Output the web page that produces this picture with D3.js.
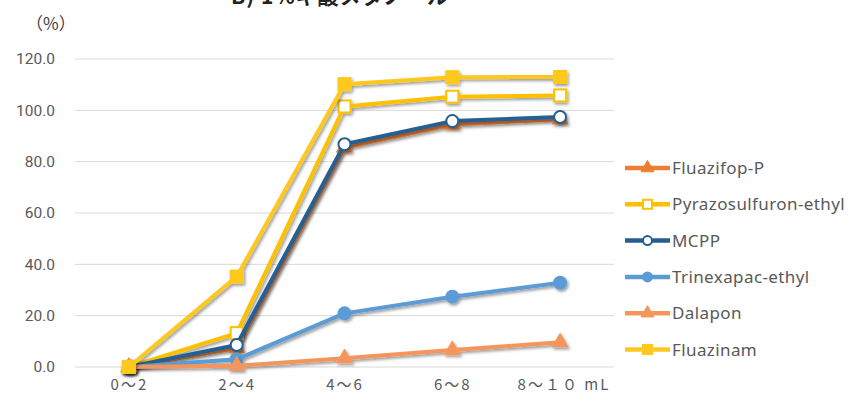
<!DOCTYPE html>
<html>
<head>
<meta charset="utf-8">
<script src="https://cdn.jsdelivr.net/npm/d3@7"></script>
<style>
  html, body { margin: 0; padding: 0; background: #fff; }
  svg { display: block; font-family: "Noto Sans CJK JP", "Noto Sans", sans-serif; }
</style>
</head>
<body>
<svg id="chart" width="850" height="398"></svg>
<script>
// Elution profile per fraction
const categories = ["0～2", "2～4", "4～6", "6～8", "8～１０ mL"];
const yTicks = [0, 20, 40, 60, 80, 100, 120];

const seriesNames = ["Fluazifop-P", "Pyrazosulfuron-ethyl", "MCPP", "Trinexapac-ethyl", "Dalapon", "Fluazinam"];
const fluazifopP   = [0, 7.4, 85.5, 94.5, 96.5];
const pyrazosulf   = [0, 13.2, 101.5, 105.3, 105.8];
const mcpp         = [0, 8.6, 86.8, 95.8, 97.4];
const trinexapac   = [0, 3.0, 20.9, 27.4, 32.8];
const dalapon      = [0, 0.5, 3.4, 6.6, 9.6];
const fluazinam    = [0, 35.2, 110.2, 112.9, 113.0];

const seriesValues = [fluazifopP, pyrazosulf, mcpp, trinexapac, dalapon, fluazinam];
const seriesColors = ["#ED7D31", "#FFC000", "#255E91", "#5B9BD5", "#F4965C", "#FFC81E"];
const seriesMarkers = ["triangle", "squareOpen", "circleOpen", "circle", "triangle", "square"];

const svg = d3.select("#chart");
const margin = { left: 75, right: 236, top: 59, bottom: 31 };
const W = 850, H = 398;

const x = d3.scalePoint().domain(categories).range([margin.left, W - margin.right]).padding(0.5);
const y = d3.scaleLinear().domain([0, 120]).range([H - margin.bottom, margin.top]);

// soft shadow under lines and markers
const defs = svg.append("defs");
const f = defs.append("filter").attr("id", "shadow").attr("x", "-20%").attr("y", "-20%").attr("width", "140%").attr("height", "140%");
f.append("feDropShadow").attr("dx", 1.5).attr("dy", 2).attr("stdDeviation", 1.8)
  .attr("flood-color", "#000").attr("flood-opacity", 0.4);

// title (runs off the top edge)
svg.append("text").attr("x", 340).attr("y", 4).attr("text-anchor", "middle")
  .attr("font-size", 21).attr("font-weight", "bold").attr("fill", "#222")
  .attr("letter-spacing", 1)
  .text("B) 1%ギ酸メタノール");

// unit label
svg.append("text").attr("x", 26).attr("y", 30).attr("font-size", 17).attr("fill", "#404040").text("（%）");

// gridlines
svg.append("g").selectAll("line").data(yTicks).join("line")
  .attr("x1", margin.left).attr("x2", W - margin.right)
  .attr("y1", d => y(d)).attr("y2", d => y(d))
  .attr("stroke", "#d9d9d9").attr("stroke-width", 1);

// y axis labels
const yAxis = d3.axisLeft(y).tickValues(yTicks).tickFormat(d3.format(".1f")).tickSize(0).tickPadding(0);
const gy = svg.append("g").attr("transform", `translate(${margin.left - 20},0)`).call(yAxis);
gy.select(".domain").remove();
gy.selectAll("text").attr("font-size", 15.5).attr("fill", "#595959")
  .attr("font-family", "Roboto, 'Noto Sans', sans-serif");

// x axis labels
const xAxis = d3.axisBottom(x).tickSize(0).tickPadding(0);
const gx = svg.append("g").attr("transform", `translate(0,${H - margin.bottom + 12})`).call(xAxis);
gx.select(".domain").remove();
gx.selectAll("text").attr("font-size", 15).attr("fill", "#595959")
  .attr("letter-spacing", 2)
  .attr("font-family", "'Noto Sans CJK JP', sans-serif");
gx.selectAll(".tick").filter((d, i) => i === categories.length - 1)
  .select("text").attr("text-anchor", "start").attr("dx", -43);

function drawMarker(g, type, color, size) {
  const s = size;
  if (type === "triangle") {
    g.append("path").attr("d", d3.symbol(d3.symbolTriangle, s * s * 0.9)())
      .attr("fill", color).attr("stroke", color).attr("stroke-width", 1);
  } else if (type === "square" || type === "squareOpen") {
    g.append("rect").attr("x", -s / 2).attr("y", -s / 2).attr("width", s).attr("height", s)
      .attr("fill", type === "square" ? color : "#fff").attr("stroke", color).attr("stroke-width", 2);
  } else {
    g.append("circle").attr("r", s / 2)
      .attr("fill", type === "circle" ? color : "#fff")
      .attr("stroke", color).attr("stroke-width", 2);
  }
}

const line = d3.line().x((d, i) => x(categories[i])).y(d => y(d));

seriesNames.forEach((name, si) => {
  const g = svg.append("g").attr("filter", "url(#shadow)");
  const color = seriesColors[si];
  g.append("path").datum(seriesValues[si]).attr("d", line)
    .attr("fill", "none").attr("stroke", color).attr("stroke-width", 4)
    .attr("stroke-linejoin", "round");
  seriesValues[si].forEach((v, i) => {
    const m = g.append("g").attr("transform", `translate(${x(categories[i])},${y(v)})`);
    drawMarker(m, seriesMarkers[si], color, seriesMarkers[si] === "triangle" ? 11 : 12);
  });
});

// legend
const legend = svg.append("g").attr("transform", "translate(625,168)");
seriesNames.forEach((name, si) => {
  const item = legend.append("g").attr("transform", `translate(0,${si * 36.3})`);
  item.append("line").attr("x1", 0).attr("x2", 45).attr("y1", 0).attr("y2", 0)
    .attr("stroke", seriesColors[si]).attr("stroke-width", 4.5);
  const m = item.append("g").attr("transform", "translate(22.5,0)");
  drawMarker(m, seriesMarkers[si], seriesColors[si], 9);
  item.append("text").attr("x", 47).attr("y", 6).attr("font-size", 17).attr("fill", "#595959")
    .attr("letter-spacing", 0.4)
    .attr("font-family", "'Noto Sans', sans-serif").text(name);
});
</script>
</body>
</html>
